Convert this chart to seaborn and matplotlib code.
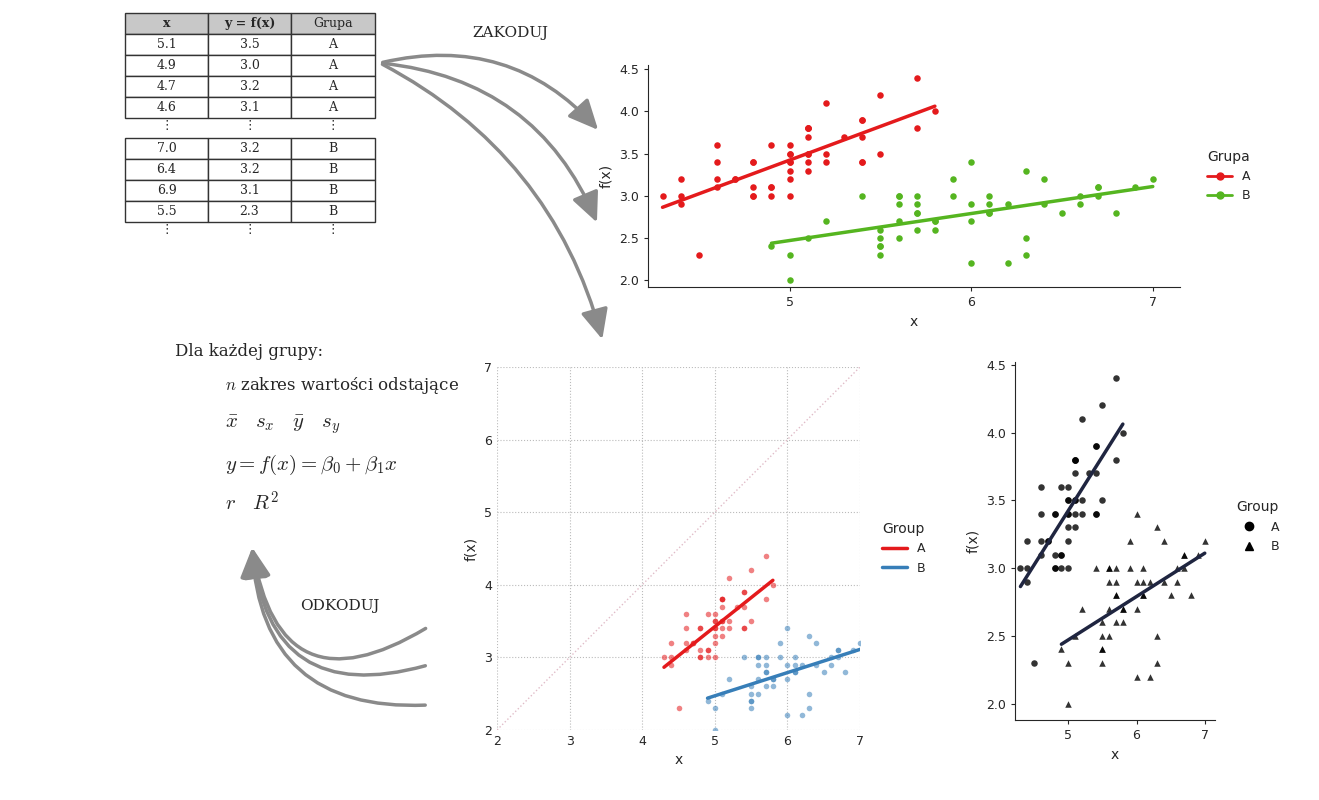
import numpy as np
import pandas as pd
import matplotlib
matplotlib.use('Agg')
import matplotlib.pyplot as plt
import seaborn as sns
from matplotlib.patches import Rectangle, FancyArrowPatch
from matplotlib.lines import Line2D

# iris sepal data: setosa (A) and versicolor (B)
x_a = [5.1,4.9,4.7,4.6,5.0,5.4,4.6,5.0,4.4,4.9,5.4,4.8,4.8,4.3,5.8,5.7,5.4,5.1,5.7,5.1,5.4,5.1,4.6,5.1,4.8,
       5.0,5.0,5.2,5.2,4.7,4.8,5.4,5.2,5.5,4.9,5.0,5.5,4.9,4.4,5.1,5.0,4.5,4.4,5.0,5.1,4.8,5.1,4.6,5.3,5.0]
y_a = [3.5,3.0,3.2,3.1,3.6,3.9,3.4,3.4,2.9,3.1,3.7,3.4,3.0,3.0,4.0,4.4,3.9,3.5,3.8,3.8,3.4,3.7,3.6,3.3,3.4,
       3.0,3.4,3.5,3.4,3.2,3.1,3.4,4.1,4.2,3.1,3.2,3.5,3.6,3.0,3.4,3.5,2.3,3.2,3.5,3.8,3.0,3.8,3.2,3.7,3.3]
x_b = [7.0,6.4,6.9,5.5,6.5,5.7,6.3,4.9,6.6,5.2,5.0,5.9,6.0,6.1,5.6,6.7,5.6,5.8,6.2,5.6,5.9,6.1,6.3,6.1,6.4,
       6.6,6.8,6.7,6.0,5.7,5.5,5.5,5.8,6.0,5.4,6.0,6.7,6.3,5.6,5.5,5.5,6.1,5.8,5.0,5.6,5.7,5.7,6.2,5.1,5.7]
y_b = [3.2,3.2,3.1,2.3,2.8,2.8,3.3,2.4,2.9,2.7,2.0,3.0,2.2,2.9,2.9,3.1,3.0,2.7,2.2,2.5,3.2,2.8,2.5,2.8,2.9,
       3.0,2.8,3.0,2.9,2.6,2.4,2.4,2.7,2.7,3.0,3.4,3.1,2.3,3.0,2.5,2.6,3.0,2.6,2.3,2.7,3.0,2.9,2.9,2.5,2.8]

table_header = ['x', 'y = f(x)', 'Grupa']
table_top = [['5.1', '3.5', 'A'], ['4.9', '3.0', 'A'], ['4.7', '3.2', 'A'], ['4.6', '3.1', 'A']]
table_bottom = [['7.0', '3.2', 'B'], ['6.4', '3.2', 'B'], ['6.9', '3.1', 'B'], ['5.5', '2.3', 'B']]

df = pd.DataFrame({'x': x_a + x_b, 'y': y_a + y_b, 'grp': ['A'] * 50 + ['B'] * 50})

sns.set_style('white')
plt.rcParams['font.family'] = ['DejaVu Sans']
plt.rcParams['mathtext.fontset'] = 'cm'

W, H = 1319, 800
fig = plt.figure(figsize=(W / 100, H / 100), dpi=100)

def ax_px(x0, y0, x1, y1):
    return fig.add_axes([x0 / W, 1 - y1 / H, (x1 - x0) / W, (y1 - y0) / H])

# overlay in pixel coordinates
ov = fig.add_axes([0, 0, 1, 1])
ov.set_xlim(0, W)
ov.set_ylim(H, 0)
ov.axis('off')
serif = 'DejaVu Serif'

cols = [125, 208, 291, 375]
def draw_rows(rows, y0, header=False):
    for i, row in enumerate(rows):
        for j, txt in enumerate(row):
            ov.add_patch(Rectangle((cols[j], y0 + i * 21), cols[j + 1] - cols[j], 21,
                                   facecolor='#c8c8c8' if header else 'white', edgecolor='#333333', lw=1))
            ov.text((cols[j] + cols[j + 1]) / 2, y0 + i * 21 + 10.5, txt, ha='center', va='center',
                    fontsize=9, family=serif, fontweight='bold' if header and j < 2 else 'normal')

draw_rows([table_header], 13, header=True)
draw_rows(table_top, 34)
draw_rows(table_bottom, 138)
for yy in (118, 222):
    for j in range(3):
        ov.text((cols[j] + cols[j + 1]) / 2, yy + 8, '⋮', ha='center', va='center', fontsize=9)

ov.text(510, 33, 'ZAKODUJ', ha='center', va='center', fontsize=11, family=serif)
ov.text(340, 606, 'ODKODUJ', ha='center', va='center', fontsize=11, family=serif)
ov.text(175, 352, 'Dla każdej grupy:', ha='left', va='center', fontsize=12, family=serif)
ov.text(225, 385, r'$n$ zakres wartości odstające', ha='left', va='center', fontsize=12, family=serif)
ov.text(225, 425, r'$\bar{x}\ \ \ s_x\ \ \ \bar{y}\ \ \ s_y$', ha='left', va='center', fontsize=15)
ov.text(225, 465, r'$y = f(x) = \beta_0 + \beta_1 x$', ha='left', va='center', fontsize=15)
ov.text(225, 503, r'$r\ \ \ R^2$', ha='left', va='center', fontsize=15)

arrow_kw = dict(arrowstyle='-|>,head_length=1.3,head_width=0.6', color='#8a8a8a', lw=2.5, mutation_scale=14)
for end, rad in [((600, 132), -0.3), ((598, 225), -0.3), ((603, 342), -0.22)]:
    ov.add_patch(FancyArrowPatch((380, 63), end, connectionstyle=f'arc3,rad={rad}', **arrow_kw))
for start, rad in [((428, 627), -0.75), ((428, 665), -0.6), ((428, 705), -0.5)]:
    ov.add_patch(FancyArrowPatch(start, (252, 545), connectionstyle=f'arc3,rad={rad}', **arrow_kw))

red, green = '#e41a1c', '#55b520'

# top right: coded plot
ax1 = ax_px(648, 65, 1180, 287)
for g, c in (('A', red), ('B', green)):
    sub = df[df.grp == g]
    sns.regplot(data=sub, x='x', y='y', ax=ax1, ci=None, color=c,
                scatter_kws=dict(s=22, alpha=1, linewidths=0), line_kws=dict(lw=2.5))
ax1.set_xlim(4.22, 7.15)
ax1.set_ylim(1.92, 4.55)
ax1.set_xticks([5, 6, 7])
ax1.set_yticks([2.0, 2.5, 3.0, 3.5, 4.0, 4.5])
ax1.set_xlabel('x', fontsize=10)
ax1.set_ylabel('f(x)', fontsize=10)
ax1.tick_params(labelsize=9, length=3, left=True, bottom=True)
sns.despine(ax=ax1)
h1 = [Line2D([], [], color=c, marker='o', lw=2, markersize=5) for c in (red, green)]
ax1.legend(h1, ['A', 'B'], title='Grupa', frameon=False, loc='center left',
           bbox_to_anchor=(1.03, 0.5), fontsize=9, title_fontsize=10, alignment='left')

# bottom middle: decoded with rescaled axes
red2, blue2 = '#e41a1c', '#377eb8'
ax2 = ax_px(497, 367, 860, 730)
ax2.plot([2, 7], [2, 7], ls=':', color='#e0bcc8', lw=1)
for g, c in (('A', red2), ('B', blue2)):
    sub = df[df.grp == g]
    sns.regplot(data=sub, x='x', y='y', ax=ax2, ci=None, color=c,
                scatter_kws=dict(s=16, alpha=0.55, linewidths=0), line_kws=dict(lw=2.5))
ax2.set_xlim(2, 7)
ax2.set_ylim(2, 7)
ax2.set_xticks(range(2, 8))
ax2.set_yticks(range(2, 8))
ax2.grid(True, ls=':', color='#bbbbbb', lw=0.8)
ax2.set_xlabel('x', fontsize=10)
ax2.set_ylabel('f(x)', fontsize=10)
ax2.tick_params(labelsize=9, length=0)
for s in ax2.spines.values():
    s.set_visible(False)
h2 = [Line2D([], [], color=c, lw=2.5) for c in (red2, blue2)]
ax2.legend(h2, ['A', 'B'], title='Group', frameon=False, loc='center left',
           bbox_to_anchor=(1.03, 0.5), fontsize=9, title_fontsize=10, alignment='left')

# bottom right: black and white
navy = '#1f2540'
ax3 = ax_px(1015, 362, 1215, 720)
for g, m in (('A', 'o'), ('B', '^')):
    sub = df[df.grp == g]
    sns.regplot(data=sub, x='x', y='y', ax=ax3, ci=None, color='black', marker=m,
                scatter_kws=dict(s=22, linewidths=0), line_kws=dict(lw=2.5, color=navy))
ax3.set_xlim(4.22, 7.15)
ax3.set_ylim(1.88, 4.52)
ax3.set_xticks([5, 6, 7])
ax3.set_yticks([2.0, 2.5, 3.0, 3.5, 4.0, 4.5])
ax3.set_xlabel('x', fontsize=10)
ax3.set_ylabel('f(x)', fontsize=10)
ax3.tick_params(labelsize=9, length=3, left=True, bottom=True)
sns.despine(ax=ax3)
h3 = [Line2D([], [], color='black', marker=m, ls='none', markersize=6) for m in ('o', '^')]
ax3.legend(h3, ['A', 'B'], title='Group', frameon=False, loc='center left',
           bbox_to_anchor=(1.05, 0.54), fontsize=9, title_fontsize=10, alignment='left')

fig.savefig('out.png', dpi=100)
